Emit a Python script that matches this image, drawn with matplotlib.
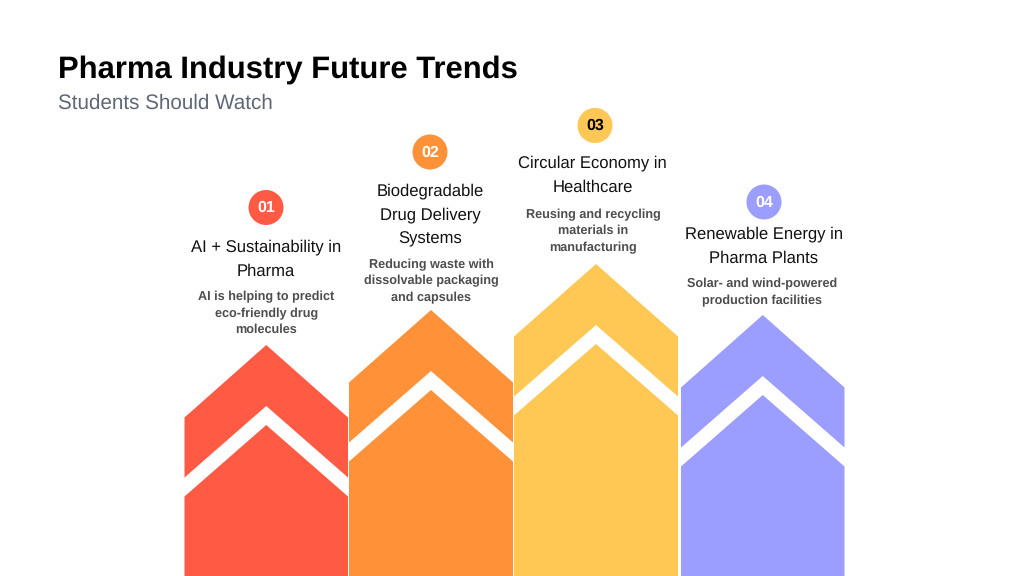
import matplotlib
matplotlib.use("Agg")
import matplotlib.pyplot as plt
from matplotlib.patches import Polygon, Circle

plt.rcParams['font.family'] = ['Liberation Sans', 'DejaVu Sans']
plt.rcParams['text.hinting'] = 'no_hinting'

TITLE = "Pharma Industry Future Trends"
SUBTITLE = "Students Should Watch"

numbers = ["01", "02", "03", "04"]
headings = ["AI + Sustainability in\nPharma",
            "Biodegradable\nDrug Delivery\nSystems",
            "Circular Economy in\nHealthcare",
            "Renewable Energy in\nPharma Plants"]
details = ["AI is helping to predict\neco-friendly drug\nmolecules",
           "Reducing waste with\ndissolvable packaging\nand capsules",
           "Reusing and recycling\nmaterials in\nmanufacturing",
           "Solar- and wind-powered\nproduction facilities"]
colors = ["#FF5A43", "#FF9138", "#FFC854", "#9B9DFF"]
number_colors = ["white", "white", "black", "white"]

# arrow geometry in image pixels
lefts = [184.5, 349, 514, 681]
rights = [348, 513, 678, 844.5]
apex_y = [345, 310, 264, 315]
circle_x = [266, 430, 595, 764]
circle_y = [207.5, 152, 125.5, 202]
heading_x = [266, 430, 592.5, 764]
heading_y = [247, 191.5, 163.5, 234.5]
detail_x = [266.5, 431, 593.5, 762.5]
detail_y = [297, 264.5, 214.5, 284]

fig = plt.figure(figsize=(10.24, 5.76), dpi=100)
ax = fig.add_axes([0, 0, 1, 1])
ax.set_xlim(0, 1024)
ax.set_ylim(576, 0)
ax.axis("off")

ax.text(58, 70, TITLE, fontsize=22.3, fontweight="bold", color="black", va="center", ha="left")
ax.text(58, 103, SUBTITLE, fontsize=14.9, color="#5F6675", va="center", ha="left")

for i in range(len(numbers)):
    l, r, top = lefts[i], rights[i], apex_y[i]
    mid = (l + r) / 2
    shoulder = top + 72.5
    gap_top = top + 61
    gap_edge = gap_top + 71.5
    low_top = gap_top + 19
    low_edge = low_top + 71.5

    ax.add_patch(Polygon([(l, gap_edge), (l, shoulder), (mid, top), (r, shoulder), (r, gap_edge), (mid, gap_top)],
                         closed=True, fc=colors[i], ec="none"))
    ax.add_patch(Polygon([(l, 576), (l, low_edge), (mid, low_top), (r, low_edge), (r, 576)],
                         closed=True, fc=colors[i], ec="none"))

    ax.add_patch(Circle((circle_x[i], circle_y[i]), 17.5, fc=colors[i], ec="none"))
    ax.text(circle_x[i], circle_y[i] + 0.5, numbers[i], fontsize=11.5, fontweight="bold",
            color=number_colors[i], ha="center", va="center")

    for j, line in enumerate(headings[i].split("\n")):
        ax.text(heading_x[i], heading_y[i] + j * 24, line, fontsize=12.0, color="#111111", ha="center", va="center")
    for j, line in enumerate(details[i].split("\n")):
        ax.text(detail_x[i], detail_y[i] + j * 16.5, line, fontsize=9.1, fontweight="bold", color="#4D4D4F",
                ha="center", va="center")

fig.savefig("out.png", dpi=100)
